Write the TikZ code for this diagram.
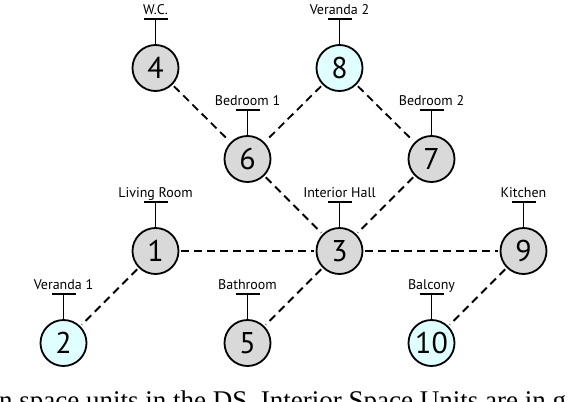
\documentclass[tikz,border=0pt]{standalone}
\usepackage{fontspec}
\setmainfont{Liberation Serif}
\newfontfamily\labelfont{PT Sans}
\usetikzlibrary{calc}
\definecolor{roomgray}{RGB}{217,217,217}
\definecolor{roomcyan}{RGB}{224,255,255}
\begin{document}
\begin{tikzpicture}[x=1pt,y=-1pt,
  room/.style={circle,draw=black,line width=1.8pt,minimum size=46pt,inner sep=0pt,font=\labelfont\fontsize{30}{30}\selectfont},
  interior/.style={room,fill=roomgray},
  exterior/.style={room,fill=roomcyan},
  link/.style={dash pattern=on 8pt off 5pt,line width=1.8pt,shorten >=2pt,shorten <=2pt},
  tag/.style={line width=1.8pt},
  tagtext/.style={font=\labelfont\fontsize{14}{14}\selectfont,anchor=base,inner sep=0pt}
]
\useasboundingbox (0,0) rectangle (582,402);
\clip (0,0) rectangle (582,402);

\node[interior] (n4) at (155.5,68) {4};
\node[exterior] (n8) at (339.5,68) {8};
\node[interior] (n6) at (247.5,159) {6};
\node[interior] (n7) at (431.5,159) {7};
\node[interior] (n1) at (155.5,251) {1};
\node[interior] (n3) at (339.5,251) {3};
\node[interior] (n9) at (523.5,251) {9};
\node[exterior] (n2) at (63.5,343) {2};
\node[interior] (n5) at (247.5,343) {5};
\node[exterior] (n10) at (431.5,343) {10};

\foreach \a/\b in {n4/n6,n8/n6,n8/n7,n6/n3,n7/n3,n1/n3,n3/n9,n1/n2,n3/n5,n9/n10}
  \draw[link] (\a) -- (\b);

\foreach \n/\t in {n4/W.C.,n8/Veranda 2,n6/Bedroom 1,n7/Bedroom 2,n1/Living Room,n3/Interior Hall,n9/Kitchen,n2/Veranda 1,n5/Bathroom,n10/Balcony}{
  \coordinate (b\n) at ($(\n.north)+(0,-25)$);
  \draw[tag] (\n.north) -- (b\n);
  \draw[tag] ($(b\n)+(-12,0)$) -- ($(b\n)+(12,0)$);
  \node[tagtext] (t\n) at ($(b\n)+(0,-5)$) {\t};
}

\node[anchor=base west,inner sep=0pt,font=\fontsize{27}{27}\selectfont] (caption) at (-1,409) {n space units in the DS. Interior Space Units are in g};
\end{tikzpicture}
\end{document}
